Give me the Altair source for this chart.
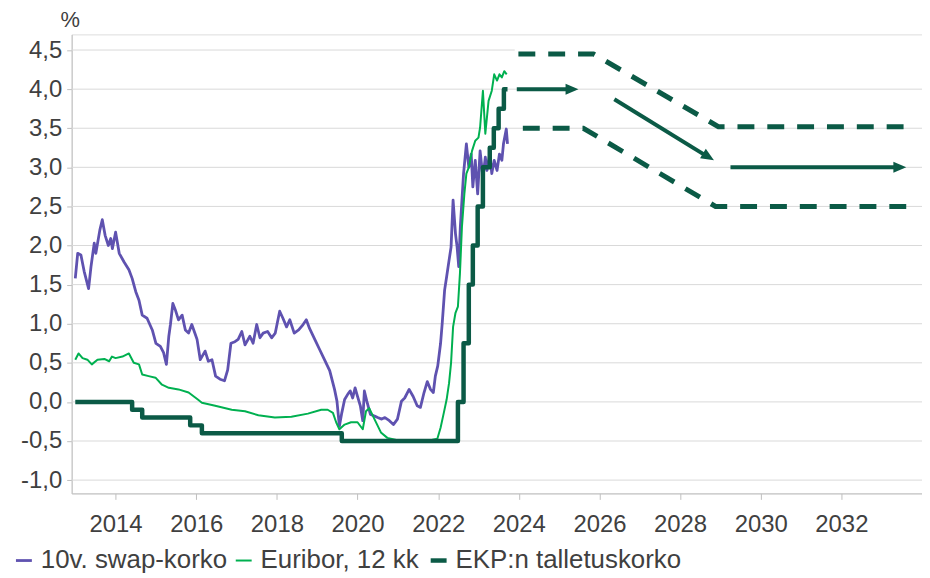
import altair as alt
import pandas as pd

FONT = "Liberation Sans"
TXT = "#404040"

# ---- series (decimal years, %) ----
swap_year = [2013.00, 2013.06, 2013.14, 2013.22, 2013.33, 2013.39, 2013.47, 2013.51, 2013.61, 2013.67,
             2013.74, 2013.82, 2013.88, 2013.92, 2014.00, 2014.09, 2014.21, 2014.33, 2014.41, 2014.50,
             2014.58, 2014.66, 2014.78, 2014.91, 2015.00, 2015.11, 2015.19, 2015.26, 2015.32, 2015.36,
             2015.42, 2015.48, 2015.56, 2015.65, 2015.73, 2015.81, 2015.89, 2015.98, 2016.02, 2016.10,
             2016.22, 2016.30, 2016.39, 2016.48, 2016.59, 2016.70, 2016.78, 2016.86, 2016.96, 2017.04,
             2017.13, 2017.21, 2017.33, 2017.41, 2017.50, 2017.58, 2017.66, 2017.77, 2017.87, 2017.96,
             2018.01, 2018.07, 2018.15, 2018.24, 2018.32, 2018.43, 2018.54, 2018.65, 2018.73, 2018.81,
             2018.94, 2019.06, 2019.18, 2019.31, 2019.43, 2019.49, 2019.55, 2019.61, 2019.68, 2019.76,
             2019.82, 2019.88, 2019.94, 2020.00, 2020.07, 2020.13, 2020.17, 2020.23, 2020.32, 2020.42,
             2020.50, 2020.60, 2020.68, 2020.79, 2020.89, 2020.99, 2021.09, 2021.17, 2021.28, 2021.38,
             2021.48, 2021.56, 2021.65, 2021.73, 2021.81, 2021.88, 2021.93, 2021.99, 2022.06, 2022.10,
             2022.16, 2022.21, 2022.27, 2022.32, 2022.37, 2022.43, 2022.47, 2022.51, 2022.55, 2022.59,
             2022.63, 2022.70, 2022.76, 2022.82, 2022.86, 2022.92, 2022.98, 2023.04, 2023.11, 2023.17,
             2023.21, 2023.28, 2023.33, 2023.39, 2023.46, 2023.52, 2023.58, 2023.62, 2023.69, 2023.72]
swap_val = [1.58, 1.90, 1.88, 1.67, 1.45, 1.73, 2.03, 1.90, 2.20, 2.33,
            2.13, 2.00, 2.09, 1.96, 2.17, 1.90, 1.79, 1.69, 1.58, 1.41,
            1.30, 1.11, 1.07, 0.92, 0.75, 0.71, 0.63, 0.48, 0.84, 0.99,
            1.26, 1.18, 1.05, 1.11, 0.92, 0.88, 0.99, 0.86, 0.80, 0.54,
            0.65, 0.52, 0.54, 0.33, 0.29, 0.27, 0.41, 0.75, 0.77, 0.80,
            0.90, 0.73, 0.84, 0.75, 0.99, 0.82, 0.88, 0.90, 0.82, 0.88,
            1.01, 1.16, 1.07, 0.96, 1.05, 0.88, 0.92, 0.99, 1.05, 0.94,
            0.80, 0.67, 0.54, 0.40, 0.16, 0.01, -0.31, -0.14, 0.03, 0.10,
            0.14, 0.05, 0.18, 0.07, -0.05, -0.24, 0.14, 0.01, -0.16, -0.18,
            -0.20, -0.22, -0.20, -0.24, -0.29, -0.22, 0.01, 0.05, 0.16, 0.07,
            -0.05, -0.07, 0.12, 0.26, 0.16, 0.12, 0.33, 0.46, 0.75, 1.00,
            1.43, 1.60, 1.81, 1.98, 2.58, 2.15, 1.98, 1.73, 2.24, 2.58,
            2.92, 3.30, 3.00, 3.17, 2.75, 3.09, 2.66, 3.21, 2.87, 3.13,
            2.96, 3.17, 2.92, 3.09, 2.96, 3.17, 3.09, 3.30, 3.49, 3.30]

eur_year = [2013.00, 2013.08, 2013.18, 2013.30, 2013.41, 2013.55, 2013.72, 2013.84, 2013.91, 2014.00,
            2014.17, 2014.33, 2014.45, 2014.58, 2014.66, 2014.82, 2014.99, 2015.15, 2015.32, 2015.56,
            2015.81, 2016.04, 2016.14, 2016.47, 2016.88, 2017.21, 2017.54, 2017.95, 2018.36, 2018.77,
            2019.10, 2019.26, 2019.39, 2019.47, 2019.55, 2019.68, 2019.84, 2020.00, 2020.13, 2020.21,
            2020.29, 2020.42, 2020.58, 2020.74, 2020.99, 2021.48, 2021.81, 2021.98, 2022.06, 2022.14,
            2022.21, 2022.27, 2022.32, 2022.37, 2022.43, 2022.49, 2022.54, 2022.59, 2022.65, 2022.70,
            2022.76, 2022.84, 2022.92, 2023.00, 2023.04, 2023.11, 2023.17, 2023.25, 2023.33, 2023.39,
            2023.46, 2023.52, 2023.58, 2023.64, 2023.70]
eur_val = [0.54, 0.62, 0.56, 0.54, 0.48, 0.54, 0.55, 0.52, 0.58, 0.56,
           0.58, 0.62, 0.50, 0.48, 0.35, 0.33, 0.31, 0.22, 0.18, 0.16,
           0.12, 0.03, -0.01, -0.05, -0.10, -0.12, -0.17, -0.20, -0.19, -0.15,
           -0.10, -0.10, -0.14, -0.26, -0.35, -0.29, -0.26, -0.26, -0.35, -0.12,
           -0.08, -0.22, -0.39, -0.46, -0.49, -0.50, -0.49, -0.47, -0.33, -0.14,
           0.03, 0.24, 0.50, 0.96, 1.14, 1.22, 1.64, 2.24, 2.66, 2.92,
           3.00, 3.21, 3.34, 3.38, 3.51, 3.98, 3.43, 3.85, 3.98, 4.19,
           4.11, 4.19, 4.15, 4.23, 4.19]

ecb_year = [2013.00, 2014.41, 2014.66, 2015.85, 2016.14, 2019.61, 2022.49, 2022.63, 2022.76,
            2022.86, 2022.98, 2023.11, 2023.28, 2023.38, 2023.50, 2023.63, 2023.72]
ecb_val = [0.00, -0.10, -0.20, -0.30, -0.40, -0.50, 0.00, 0.75, 1.50,
           2.00, 2.50, 3.00, 3.25, 3.50, 3.75, 4.00, 4.00]

# ---- forecast scenario paths ----
upper_year = [2023.99, 2025.85, 2028.95, 2033.74]
upper_val = [4.45, 4.45, 3.52, 3.52]
lower_year = [2024.10, 2025.60, 2028.88, 2033.74]
lower_val = [3.50, 3.50, 2.50, 2.50]

shaft_x1 = [2023.95, 2026.37, 2029.25]
shaft_y1 = [4.00, 3.87, 3.00]
shaft_x2 = [2025.28, 2028.67, 2033.41]
shaft_y2 = [4.00, 3.14, 3.00]
head_x = [2025.48, 2028.84, 2033.61]
head_y = [4.00, 3.09, 3.00]
head_angle = [0, 31.5, 0]

grid_vals = [-1.0, -0.5, 0.0, 0.5, 1.0, 1.5, 2.0, 2.5, 3.0, 3.5, 4.0, 4.5]
grid_end = [2034.0] * 11 + [2023.9]

names = ["10v. swap-korko", "Euribor, 12 kk", "EKP:n talletuskorko"]
colors = ["#5f52b0", "#00b050", "#0b5a46"]
widths = [2.8, 2.0, 4.5]
DARK = "#0b5a46"

X_DOMAIN = [2012.91, 2034.0]
Y_DOMAIN = [-1.17, 4.70]
x_ticks = [2014, 2016, 2018, 2020, 2022, 2024, 2026, 2028, 2030, 2032, 2034]

xscale = alt.Scale(domain=X_DOMAIN, nice=False, zero=False)
yscale = alt.Scale(domain=Y_DOMAIN, nice=False, zero=False)

xaxis = alt.Axis(values=x_ticks, grid=False, title=None,
                 labelExpr="datum.value > 2033 ? '' : format(datum.value, 'd')",
                 labelFont=FONT, labelFontSize=24, labelColor=TXT, labelPadding=13,
                 domainColor="#bfbfbf", tickColor="#bfbfbf", tickSize=6, labelFlush=False)
yaxis = alt.Axis(values=grid_vals, grid=False, title="%", titleAngle=0, titleX=-2, titleY=-15,
                 titleAlign="center", titleBaseline="middle", titleFont=FONT, titleFontSize=22,
                 titleFontWeight="normal", titleColor=TXT,
                 labelExpr="replace(replace(format(datum.value, '.1f'), '.', ','), '\u2212', '-')",
                 labelFont=FONT, labelFontSize=24, labelColor=TXT, labelPadding=5,
                 domainColor="#bfbfbf", tickColor="#bfbfbf", tickSize=5)

X = alt.X("year:Q", scale=xscale, axis=xaxis)
Y = alt.Y("value:Q", scale=yscale, axis=yaxis)

color_scale = alt.Scale(domain=names, range=colors)
width_scale = alt.Scale(type="ordinal", domain=names, range=widths)
legend = alt.Legend(orient="none", legendX=-61, legendY=516, direction="horizontal", title=None,
                    symbolType="stroke", symbolSize=256, labelFont=FONT, labelFontSize=26,
                    labelColor=TXT, columnPadding=3, labelOffset=4, padding=0, symbolOffset=0,
                    labelLimit=500)

# ---- tables ----
grid_df = pd.DataFrame({"value": grid_vals, "year": [X_DOMAIN[0]] * len(grid_vals), "year2": grid_end})
lines_df = pd.concat([
    pd.DataFrame({"year": swap_year, "value": swap_val, "series": names[0]}),
    pd.DataFrame({"year": eur_year, "value": eur_val, "series": names[1]}),
])
ecb_df = pd.DataFrame({"year": ecb_year, "value": ecb_val, "series": names[2]})
fc_df = pd.concat([
    pd.DataFrame({"year": upper_year, "value": upper_val, "grp": "upper"}),
    pd.DataFrame({"year": lower_year, "value": lower_val, "grp": "lower"}),
])
shaft_df = pd.DataFrame({"year": shaft_x1, "value": shaft_y1, "year2": shaft_x2, "value2": shaft_y2})
head_df = pd.DataFrame({"year": head_x, "value": head_y, "angle": head_angle})

grid = alt.Chart(grid_df).mark_rule(color="#d9d9d9", strokeWidth=1).encode(
    x=X, x2="year2:Q", y=Y)

color_enc = alt.Color("series:N", scale=color_scale, legend=legend, sort=names)
width_enc = alt.StrokeWidth("series:N", scale=width_scale, legend=legend, sort=names)

hist = alt.Chart(lines_df).mark_line(strokeJoin="round").encode(
    x=X, y=Y, color=color_enc, strokeWidth=width_enc, order="year:Q")

ecb = alt.Chart(ecb_df).mark_line(interpolate="step-after", strokeJoin="round").encode(
    x=X, y=Y, color=color_enc, strokeWidth=width_enc)

forecast = alt.Chart(fc_df).mark_line(color=DARK, strokeWidth=5, strokeDash=[17, 13]).encode(
    x=X, y=Y, detail="grp:N", order="year:Q")

shafts = alt.Chart(shaft_df).mark_rule(color=DARK, strokeWidth=4).encode(
    x=X, y=Y, x2="year2:Q", y2="value2:Q")

heads = alt.Chart(head_df).mark_point(
    shape="M0,0L-2,-0.85L-2,0.85Z", filled=True, color=DARK, opacity=1, size=169, strokeWidth=0
).encode(x=X, y=Y, angle=alt.Angle("angle:Q", scale=None))

chart = alt.layer(grid, hist, ecb, forecast, shafts, heads).properties(
    width=855, height=461.5,
    padding={"left": 64, "top": 25, "right": 0, "bottom": 81},
    autosize=alt.AutoSizeParams(type="none"),
).configure_view(stroke=None).configure(background="white")

chart.save("out.html", embed_options={"renderer": "svg", "actions": False})
